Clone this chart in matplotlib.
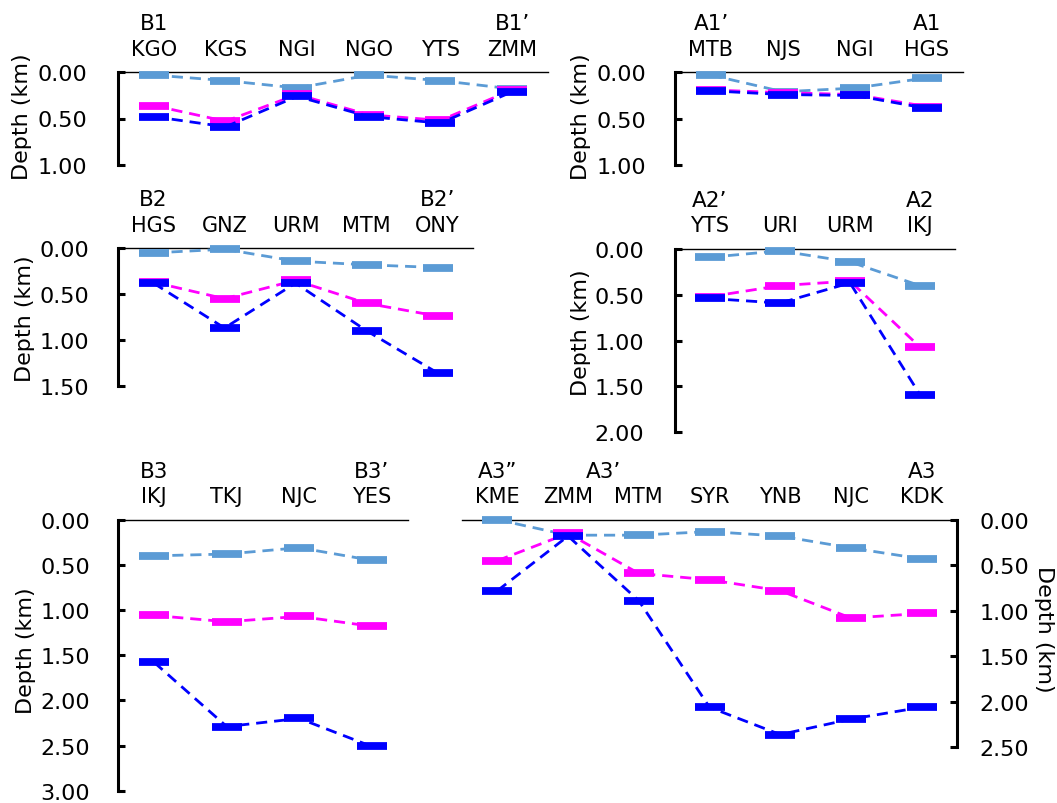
import matplotlib
matplotlib.use('Agg')
import matplotlib.pyplot as plt
import numpy as np

W, H = 1057, 804

# profile B1
b1_stations = ['KGO', 'KGS', 'NGI', 'NGO', 'YTS', 'ZMM']
b1_light = [0.03, 0.09, 0.17, 0.03, 0.09, 0.18]
b1_magenta = [0.36, 0.53, 0.24, 0.46, 0.52, 0.19]
b1_blue = [0.48, 0.59, 0.26, 0.48, 0.55, 0.21]

# profile A1
a1_stations = ['MTB', 'NJS', 'NGI', 'HGS']
a1_light = [0.03, 0.21, 0.17, 0.06]
a1_magenta = [0.19, 0.22, 0.24, 0.37]
a1_blue = [0.20, 0.24, 0.25, 0.39]

# profile B2
b2_stations = ['HGS', 'GNZ', 'URM', 'MTM', 'ONY']
b2_light = [0.05, 0.01, 0.14, 0.18, 0.21]
b2_magenta = [0.37, 0.55, 0.35, 0.60, 0.74]
b2_blue = [0.38, 0.87, 0.38, 0.90, 1.36]

# profile A2
a2_stations = ['YTS', 'URI', 'URM', 'IKJ']
a2_light = [0.09, 0.02, 0.14, 0.40]
a2_magenta = [0.52, 0.40, 0.35, 1.07]
a2_blue = [0.54, 0.59, 0.37, 1.59]

# profile B3
b3_stations = ['IKJ', 'TKJ', 'NJC', 'YES']
b3_light = [0.40, 0.38, 0.31, 0.45]
b3_magenta = [1.06, 1.13, 1.07, 1.18]
b3_blue = [1.58, 2.29, 2.20, 2.51]

# profile A3
a3_stations = ['KME', 'ZMM', 'MTM', 'SYR', 'YNB', 'NJC', 'KDK']
a3_light = [0.00, 0.17, 0.17, 0.13, 0.18, 0.31, 0.43]
a3_magenta = [0.45, 0.15, 0.59, 0.66, 0.78, 1.08, 1.03]
a3_blue = [0.78, 0.18, 0.89, 2.06, 2.36, 2.19, 2.06]

LIGHT = '#5B9BD5'
MAG = '#FF00FF'
BLUE = '#0000FF'

fig = plt.figure(figsize=(W / 100, H / 100), dpi=100)


def panel(box, ymax, stations, light, mag, blue, sections, pad, side='left'):
    x0, x1, y0, y1 = box  # pixel box: left, right, top (depth 0), bottom (ymax)
    ax = fig.add_axes([x0 / W, 1 - y1 / H, (x1 - x0) / W, (y1 - y0) / H])
    x = np.arange(len(stations))
    for vals, c in ((light, LIGHT), (mag, MAG), (blue, BLUE)):
        ax.plot(x, vals, color=c, lw=2.0, dashes=(4, 2.5),
                marker='_', ms=22, mew=5.6, clip_on=False, zorder=3)
    ax.set_xlim(-0.5, len(stations) - 0.5)
    ax.set_ylim(ymax, 0)
    ax.set_xticks([])
    ticks = np.arange(0, ymax + 0.01, 0.5)
    ax.set_yticks(ticks)
    ax.set_yticklabels(['{:.2f}'.format(t) for t in ticks])
    for s in ('bottom', 'left', 'right'):
        ax.spines[s].set_visible(False)
    ax.spines['top'].set_linewidth(1.0)
    ax.spines[side].set_visible(True)
    ax.spines[side].set_linewidth(2.2)
    if side == 'right':
        ax.yaxis.tick_right()
    ax.tick_params(axis='y', direction='in', length=5, width=2.2,
                   pad=pad, labelsize=16)
    ax.patch.set_alpha(0)
    for i, name in enumerate(stations):
        ax.annotate(name, (i, 0), xytext=(0, 17.5), textcoords='offset pixels',
                    ha='center', va='baseline', fontsize=15)
    for pos, lab in sections:
        ax.annotate(lab, (pos, 0), xytext=(0, 43), textcoords='offset pixels',
                    ha='center', va='baseline', fontsize=15.5)
    return ax


panel((118, 548, 73.3, 165.7), 1.0, b1_stations, b1_light, b1_magenta, b1_blue,
      [(0, 'B1'), (5, 'B1’')], 22)
panel((675, 963, 73.3, 166), 1.0, a1_stations, a1_light, a1_magenta, a1_blue,
      [(0, 'A1’'), (3, 'A1')], 21)
panel((118, 473, 249.3, 386.7), 1.5, b2_stations, b2_light, b2_magenta, b2_blue,
      [(0, 'B2'), (4, 'B2’')], 21)
panel((675, 955, 250, 433.3), 2.0, a2_stations, a2_light, a2_magenta, a2_blue,
      [(0, 'A2’'), (3, 'A2')], 22)
panel((118, 408, 520.7, 791.7), 3.0, b3_stations, b3_light, b3_magenta, b3_blue,
      [(0, 'B3'), (3, 'B3’')], 20)
panel((462, 957, 520.7, 748.3), 2.5, a3_stations, a3_light, a3_magenta, a3_blue,
      [(0, 'A3”'), (1.5, 'A3’'), (6, 'A3')], 16, side='right')

# axis titles placed by pixel centre
for xc, yc, rot in ((22, 116.5, 90), (581, 116.5, 90), (25, 319, 90),
                    (581, 333, 90), (26.5, 651, 90), (1044, 629, 270)):
    fig.text(xc / W, 1 - yc / H, 'Depth (km)', rotation=rot,
             ha='center', va='center', fontsize=16)

fig.savefig('out.png', dpi=100)
